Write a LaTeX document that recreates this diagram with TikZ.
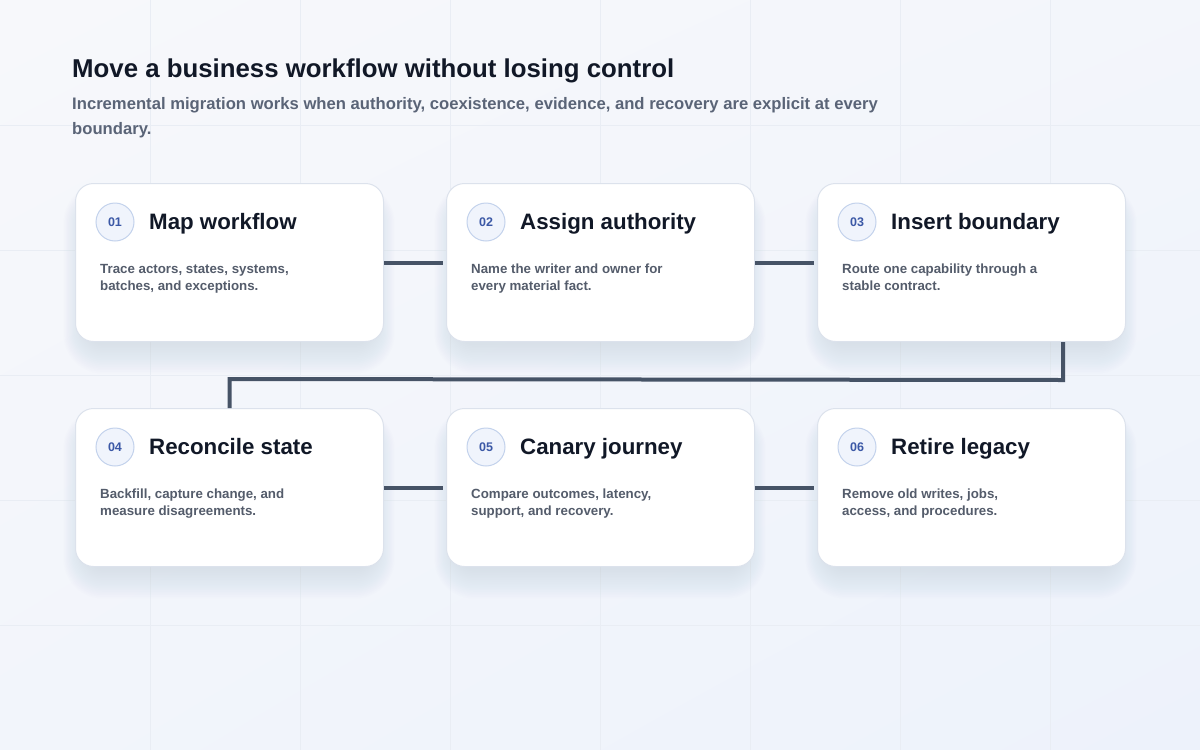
\documentclass[tikz,border=0pt]{standalone}
\usepackage{fontspec}
\setmainfont{Liberation Sans}
\usetikzlibrary{calc,shadings}
\definecolor{bgA}{HTML}{F7F8FB}
\definecolor{bgB}{HTML}{EDF2FB}
\definecolor{gridc}{HTML}{E9EDF4}
\definecolor{ink}{HTML}{111827}
\definecolor{sub}{HTML}{5A6477}
\definecolor{desc}{HTML}{545C6B}
\definecolor{cardborder}{HTML}{DCE2EC}
\definecolor{shadowc}{HTML}{8E9BBA}
\definecolor{numfill}{HTML}{F0F4FC}
\definecolor{numborder}{HTML}{C3D2EC}
\definecolor{numtext}{HTML}{3B58A6}
\definecolor{linkc}{HTML}{465366}
\tikzset{
  cardbox/.style={draw=cardborder, line width=1pt, fill=white, rounded corners=18pt,
    minimum width=308pt, minimum height=158pt, inner sep=0pt, anchor=north west},
  numbadge/.style={circle, draw=numborder, line width=1pt, fill=numfill, minimum size=38pt,
    inner sep=0pt, text=numtext, font=\fontsize{12.5}{14}\selectfont\bfseries},
  cardtitle/.style={anchor=base west, inner sep=0pt, text=ink, font=\fontsize{22.3}{26}\selectfont\bfseries},
  carddesc/.style={anchor=base west, inner sep=0pt, text=desc, align=left,
    font=\fontsize{13.3}{17}\selectfont\bfseries},
  link/.style={draw=linkc, line width=4pt},
}
\newcommand\mkcard[7]{%
  \foreach \k in {1,...,18}{
    \fill[shadowc, opacity=0.012, rounded corners=18pt+1.2*\k pt]
      (#2+10-1.2*\k, #3+22-1.2*\k) rectangle (#2+298+1.2*\k, #3+160+1.7*\k);
  }
  \node[cardbox] (c#1) at (#2,#3) {};
  \node[numbadge] (n#1) at (#2+40,#3+39) {#4};
  \node[cardtitle] (t#1) at (#2+74,#3+46) {#5};
  \node[carddesc] (d#1) at (#2+25,#3+107) {#6\\#7};
}
\begin{document}
\begin{tikzpicture}[x=1pt,y=-1pt]
\useasboundingbox (0,0) rectangle (1200,750);
\shade[upper left=bgA, upper right=bgA!60!bgB, lower left=bgA!50!bgB, lower right=bgB] (0,0) rectangle (1200,750);
\foreach \gx in {150,300,...,1050} \draw[gridc, line width=0.7pt] (\gx,0) -- (\gx,750);
\foreach \gy in {125,250,...,625} \draw[gridc, line width=0.7pt] (0,\gy) -- (1200,\gy);
\node[anchor=base west, inner sep=0pt, text=ink, font=\fontsize{25.8}{30}\selectfont\bfseries] (title) at (72,77) {Move a business workflow without losing control};
\node[anchor=base west, inner sep=0pt, text=sub, align=left, font=\fontsize{16.65}{25}\selectfont\bfseries] (subtitle) at (72,134) {Incremental migration works when authority, coexistence, evidence, and recovery are explicit at every\\boundary.};
\mkcard{1}{75}{183}{01}{Map workflow}{Trace actors, states, systems,}{batches, and exceptions.}
\mkcard{2}{446}{183}{02}{Assign authority}{Name the writer and owner for}{every material fact.}
\mkcard{3}{817}{183}{03}{Insert boundary}{Route one capability through a}{stable contract.}
\mkcard{4}{75}{408}{04}{Reconcile state}{Backfill, capture change, and}{measure disagreements.}
\mkcard{5}{446}{408}{05}{Canary journey}{Compare outcomes, latency,}{support, and recovery.}
\mkcard{6}{817}{408}{06}{Retire legacy}{Remove old writes, jobs,}{access, and procedures.}
\draw[link, shorten >=3pt] (c1.east) -- (c2.west);
\draw[link, shorten >=3pt] (c2.east) -- (c3.west);
\draw[link, shorten >=3pt] (c4.east) -- (c5.west);
\draw[link, shorten >=3pt] (c5.east) -- (c6.west);
\coordinate (turnA) at ($(c3.south east)+(-63,38)$);
\coordinate (turnB) at ($(c4.north)+(0,-29)$);
\draw[link, miter limit=10] ($(c3.south east)+(-63,0)$) -- (turnA) -- (turnB) -- (c4.north);
\end{tikzpicture}
\end{document}
